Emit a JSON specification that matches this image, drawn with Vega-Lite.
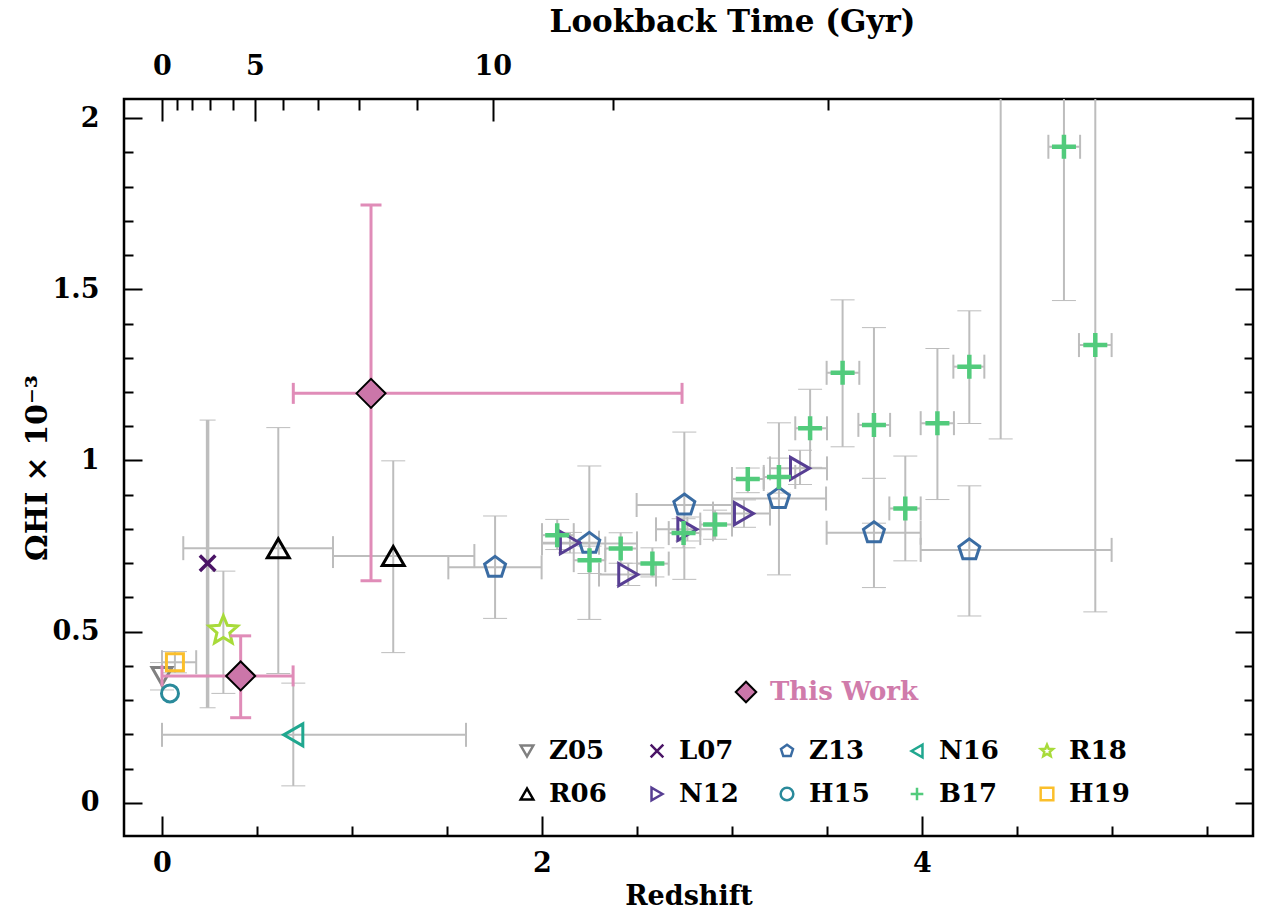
{
  "$schema": "https://vega.github.io/schema/vega-lite/v6.json",
  "width": 1129,
  "height": 737,
  "autosize": "none",
  "padding": {"left": 124, "top": 99, "right": 10, "bottom": 85},
  "background": "white",
  "config": {
    "font": "DejaVu Serif",
    "view": {"stroke": "black", "strokeWidth": 2.5},
    "axis": {
      "labelFont": "DejaVu Serif", "titleFont": "DejaVu Serif",
      "labelFontSize": 27, "titleFontSize": 28, "titleFontWeight": "bold", "labelFontWeight": "bold",
      "labelColor": "black", "titleColor": "black", "tickColor": "black", "tickWidth": 2,
      "grid": false, "domain": false, "labelOverlap": false, "labelFlush": false, "labelBound": false
    },
    "legend": {"labelFont": "DejaVu Serif", "labelFontWeight": "bold"}
  },
  "datasets": {
    "obs": [
      {"src": "Z05", "z": 0.0, "om": 0.37, "olo": 0.33, "ohi": 0.41},
      {"src": "H15", "z": 0.042, "om": 0.32},
      {"src": "H19", "z": 0.068, "om": 0.411, "zlo": 0.0, "zhi": 0.18, "olo": 0.38, "ohi": 0.442},
      {"src": "L07", "z": 0.24, "om": 0.70, "olo": 0.278, "ohi": 1.118},
      {"src": "R18", "z": 0.323, "om": 0.503, "olo": 0.32, "ohi": 0.677},
      {"src": "R06", "z": 0.612, "om": 0.744, "zlo": 0.112, "zhi": 0.90, "olo": 0.378, "ohi": 1.096},
      {"src": "R06", "z": 1.217, "om": 0.721, "zlo": 0.90, "zhi": 1.644, "olo": 0.439, "ohi": 0.999},
      {"src": "N16", "z": 0.691, "om": 0.199, "zlo": 0.0, "zhi": 1.60, "olo": 0.05, "ohi": 0.35},
      {"src": "Z13", "z": 1.753, "om": 0.688, "zlo": 1.507, "zhi": 1.998, "olo": 0.539, "ohi": 0.838},
      {"src": "Z13", "z": 2.249, "om": 0.758, "zlo": 2.0, "zhi": 2.5, "olo": 0.536, "ohi": 0.984},
      {"src": "Z13", "z": 2.749, "om": 0.87, "zlo": 2.498, "zhi": 3.0, "olo": 0.653, "ohi": 1.083},
      {"src": "Z13", "z": 3.247, "om": 0.889, "zlo": 3.0, "zhi": 3.495, "olo": 0.666, "ohi": 1.11},
      {"src": "Z13", "z": 3.747, "om": 0.789, "zlo": 3.498, "zhi": 3.993, "olo": 0.629, "ohi": 0.948},
      {"src": "Z13", "z": 4.249, "om": 0.739, "zlo": 3.993, "zhi": 4.998, "olo": 0.546, "ohi": 0.926},
      {"src": "N12", "z": 2.147, "om": 0.76, "zlo": 2.0, "zhi": 2.3, "olo": 0.73, "ohi": 0.79},
      {"src": "N12", "z": 2.454, "om": 0.667, "zlo": 2.3, "zhi": 2.6, "olo": 0.635, "ohi": 0.70},
      {"src": "N12", "z": 2.765, "om": 0.799, "zlo": 2.6, "zhi": 2.9, "olo": 0.765, "ohi": 0.835},
      {"src": "N12", "z": 3.063, "om": 0.845, "zlo": 2.9, "zhi": 3.2, "olo": 0.805, "ohi": 0.885},
      {"src": "N12", "z": 3.358, "om": 0.977, "zlo": 3.2, "zhi": 3.5, "olo": 0.93, "ohi": 1.03},
      {"src": "B17", "z": 2.08, "om": 0.782, "zlo": 2.0, "zhi": 2.167, "olo": 0.74, "ohi": 0.828},
      {"src": "B17", "z": 2.25, "om": 0.709, "zlo": 2.167, "zhi": 2.333, "olo": 0.67, "ohi": 0.75},
      {"src": "B17", "z": 2.414, "om": 0.743, "zlo": 2.333, "zhi": 2.5, "olo": 0.70, "ohi": 0.789},
      {"src": "B17", "z": 2.581, "om": 0.699, "zlo": 2.5, "zhi": 2.667, "olo": 0.66, "ohi": 0.745},
      {"src": "B17", "z": 2.745, "om": 0.788, "zlo": 2.667, "zhi": 2.833, "olo": 0.745, "ohi": 0.83},
      {"src": "B17", "z": 2.911, "om": 0.813, "zlo": 2.833, "zhi": 3.0, "olo": 0.77, "ohi": 0.855},
      {"src": "B17", "z": 3.083, "om": 0.946, "zlo": 3.0, "zhi": 3.167, "olo": 0.906, "ohi": 0.978},
      {"src": "B17", "z": 3.247, "om": 0.952, "zlo": 3.167, "zhi": 3.333, "olo": 0.905, "ohi": 1.007},
      {"src": "B17", "z": 3.411, "om": 1.094, "zlo": 3.333, "zhi": 3.5, "olo": 0.98, "ohi": 1.208},
      {"src": "B17", "z": 3.582, "om": 1.256, "zlo": 3.498, "zhi": 3.67, "olo": 1.04, "ohi": 1.469},
      {"src": "B17", "z": 3.747, "om": 1.104, "zlo": 3.665, "zhi": 3.832, "olo": 0.817, "ohi": 1.388},
      {"src": "B17", "z": 3.912, "om": 0.86, "zlo": 3.828, "zhi": 3.993, "olo": 0.707, "ohi": 1.013},
      {"src": "B17", "z": 4.081, "om": 1.109, "zlo": 3.993, "zhi": 4.168, "olo": 0.886, "ohi": 1.327},
      {"src": "B17", "z": 4.249, "om": 1.274, "zlo": 4.165, "zhi": 4.328, "olo": 1.108, "ohi": 1.437},
      {"src": "B17", "z": 4.414, "om": 2.4, "zlo": 4.33, "zhi": 4.5, "olo": 1.063, "ohi": 3.2},
      {"src": "B17", "z": 4.747, "om": 1.916, "zlo": 4.665, "zhi": 4.832, "olo": 1.467, "ohi": 2.5},
      {"src": "B17", "z": 4.912, "om": 1.337, "zlo": 4.826, "zhi": 4.998, "olo": 0.558, "ohi": 2.6},
      {"src": "This Work", "z": 0.414, "om": 0.371, "zlo": 0.0, "zhi": 0.69, "olo": 0.249, "ohi": 0.488},
      {"src": "This Work", "z": 1.10, "om": 1.196, "zlo": 0.691, "zhi": 2.737, "olo": 0.649, "ohi": 1.746}
    ]
  },
  "data": {"name": "obs"},
  "layer": [
    {
      "mark": {"type": "point", "opacity": 0},
      "encoding": {
        "x": {"field": "z", "type": "quantitative", "scale": {"domain": [-0.2, 5.742], "nice": false, "zero": false},
          "axis": {"orient": "bottom", "values": [0, 2, 4], "format": "~g", "tickSize": -20, "labelPadding": 34, "title": "Redshift", "titleFontSize": 27, "titlePadding": 7}},
        "y": {"field": "om", "type": "quantitative", "scale": {"domain": [-0.0964, 2.0555], "nice": false, "zero": false},
          "axis": {"orient": "left", "values": [0, 0.5, 1, 1.5, 2], "format": "~g", "tickSize": -18, "labelPadding": 43, "title": "ΩHI × 10⁻³", "titleFontSize": 30, "titlePadding": 0}}
      }
    },
    {
      "mark": {"type": "point", "opacity": 0},
      "encoding": {
        "x": {"field": "z", "type": "quantitative", "scale": {"domain": [-0.2, 5.742], "nice": false, "zero": false},
          "axis": {"orient": "bottom", "values": [0.5, 1, 1.5, 2.5, 3, 3.5, 4.5, 5, 5.5], "tickSize": -10, "labels": false, "title": null}},
        "y": {"field": "om", "type": "quantitative", "scale": {"domain": [-0.0964, 2.0555], "nice": false, "zero": false},
          "axis": {"orient": "left", "values": [0.1, 0.2, 0.3, 0.4, 0.6, 0.7, 0.8, 0.9, 1.1, 1.2, 1.3, 1.4, 1.6, 1.7, 1.8, 1.9], "tickSize": -9, "labels": false, "title": null}}
      }
    },
    {
      "mark": {"type": "point", "opacity": 0},
      "encoding": {
        "x": {"field": "z", "type": "quantitative", "scale": {"domain": [-0.2, 5.742], "nice": false, "zero": false},
          "axis": {"orient": "top", "values": [0, 0.489, 1.741], "labelExpr": "datum.value < 0.2 ? '0' : datum.value < 1 ? '5' : '10'", "tickSize": -22, "labelPadding": 41, "title": "Lookback Time (Gyr)", "titleFontSize": 31, "titlePadding": 14, "titleX": 608}},
        "y": {"field": "om", "type": "quantitative", "scale": {"domain": [-0.0964, 2.0555], "nice": false, "zero": false},
          "axis": {"orient": "right", "values": [0, 0.5, 1, 1.5, 2], "tickSize": -18, "labels": false, "title": null}}
      }
    },
    {
      "mark": {"type": "point", "opacity": 0},
      "encoding": {
        "x": {"field": "z", "type": "quantitative", "scale": {"domain": [-0.2, 5.742], "nice": false, "zero": false},
          "axis": {"orient": "top", "values": [0.081, 0.156, 0.253, 0.372, 0.638, 0.823, 1.038, 1.341, 2.372, 3.505], "tickSize": -11, "labels": false, "title": null}},
        "y": {"field": "om", "type": "quantitative", "scale": {"domain": [-0.0964, 2.0555], "nice": false, "zero": false},
          "axis": {"orient": "right", "values": [0.1, 0.2, 0.3, 0.4, 0.6, 0.7, 0.8, 0.9, 1.1, 1.2, 1.3, 1.4, 1.6, 1.7, 1.8, 1.9], "tickSize": -9, "labels": false, "title": null}}
      }
    },
    {
      "transform": [{"filter": "datum.src !== 'This Work' && isValid(datum.zlo)"}],
      "mark": {"type": "rule", "color": "#bdbdbd", "strokeWidth": 2, "clip": true},
      "encoding": {
        "x": {"field": "zlo", "type": "quantitative", "scale": {"domain": [-0.2, 5.742], "nice": false, "zero": false}, "axis": null},
        "x2": {"field": "zhi"},
        "y": {"field": "om", "type": "quantitative", "scale": {"domain": [-0.0964, 2.0555], "nice": false, "zero": false}, "axis": null}
      }
    },
    {
      "transform": [{"filter": "datum.src !== 'This Work' && isValid(datum.zlo)"}, {"fold": ["zlo", "zhi"], "as": ["k", "zc"]}],
      "mark": {"type": "tick", "orient": "vertical", "color": "#bdbdbd", "thickness": 2, "size": 24, "opacity": 1, "clip": true},
      "encoding": {
        "x": {"field": "zc", "type": "quantitative", "scale": {"domain": [-0.2, 5.742], "nice": false, "zero": false}, "axis": null},
        "y": {"field": "om", "type": "quantitative", "scale": {"domain": [-0.0964, 2.0555], "nice": false, "zero": false}, "axis": null}
      }
    },
    {
      "transform": [{"filter": "datum.src !== 'This Work' && isValid(datum.olo)"}],
      "mark": {"type": "rule", "color": "#bdbdbd", "clip": true},
      "encoding": {
        "x": {"field": "z", "type": "quantitative", "scale": {"domain": [-0.2, 5.742], "nice": false, "zero": false}, "axis": null},
        "y": {"field": "olo", "type": "quantitative", "scale": {"domain": [-0.0964, 2.0555], "nice": false, "zero": false}, "axis": null},
        "y2": {"field": "ohi"},
        "strokeWidth": {"condition": {"test": "datum.src === 'L07'", "value": 3.5}, "value": 2}
      }
    },
    {
      "transform": [{"filter": "datum.src !== 'This Work' && isValid(datum.olo)"}, {"fold": ["olo", "ohi"], "as": ["k", "oc"]}],
      "mark": {"type": "tick", "orient": "horizontal", "color": "#bdbdbd", "opacity": 1, "clip": true},
      "encoding": {
        "x": {"field": "z", "type": "quantitative", "scale": {"domain": [-0.2, 5.742], "nice": false, "zero": false}, "axis": null},
        "y": {"field": "oc", "type": "quantitative", "scale": {"domain": [-0.0964, 2.0555], "nice": false, "zero": false}, "axis": null},
        "size": {"condition": {"test": "datum.src === 'L07'", "value": 16}, "value": 24},
        "strokeWidth": {"condition": {"test": "datum.src === 'L07'", "value": 3.5}, "value": 2}
      }
    },
    {
      "transform": [{"filter": "datum.src !== 'This Work'"}],
      "mark": {"type": "point", "filled": false, "opacity": 1, "clip": true},
      "encoding": {
        "x": {"field": "z", "type": "quantitative", "scale": {"domain": [-0.2, 5.742], "nice": false, "zero": false}, "axis": null},
        "y": {"field": "om", "type": "quantitative", "scale": {"domain": [-0.0964, 2.0555], "nice": false, "zero": false}, "axis": null},
        "shape": {"field": "src", "type": "nominal",
          "scale": {"domain": ["Z05", "L07", "Z13", "N16", "R18", "R06", "N12", "H15", "B17", "H19"],
            "range": ["triangle-down", "M-1,-1L1,1M-1,1L1,-1", "M0,-1L0.951,-0.309L0.588,0.809L-0.588,0.809L-0.951,-0.309Z", "triangle-left", "M0,-1L0.265,-0.364L0.951,-0.309L0.428,0.139L0.588,0.809L0,0.45L-0.588,0.809L-0.428,0.139L-0.951,-0.309L-0.265,-0.364Z", "triangle-up", "triangle-right", "circle", "M-1,0L1,0M0,-1L0,1", "square"]},
          "legend": {"orient": "none", "legendX": 390, "legendY": 639, "columns": 5, "direction": "horizontal", "title": null, "labelFontSize": 26, "symbolSize": 160, "symbolStrokeWidth": 2.5, "symbolFillColor": "transparent", "columnPadding": 34, "rowPadding": 17, "gridAlign": "all", "labelOffset": 9, "padding": 0,
            "encode": {"labels": {"update": {"fill": {"scale": "stroke", "field": "value"}}}}}},
        "stroke": {"field": "src", "type": "nominal",
          "scale": {"domain": ["Z05", "L07", "Z13", "N16", "R18", "R06", "N12", "H15", "B17", "H19"],
            "range": ["#808080", "#4a1466", "#3a6ca3", "#20a78f", "#a8db3a", "#000000", "#573e93", "#2a8a9b", "#52cb7c", "#fbbf2b"]},
          "legend": {"orient": "none", "legendX": 390, "legendY": 639, "columns": 5, "direction": "horizontal", "title": null, "labelFontSize": 26, "symbolSize": 160, "symbolStrokeWidth": 2.5, "symbolFillColor": "transparent", "columnPadding": 34, "rowPadding": 17, "gridAlign": "all", "labelOffset": 9, "padding": 0,
            "encode": {"labels": {"update": {"fill": {"scale": "stroke", "field": "value"}}}}}},
        "size": {"condition": [
          {"test": "datum.src === 'L07'", "value": 240},
          {"test": "datum.src === 'H15' || datum.src === 'H19'", "value": 289},
          {"test": "datum.src === 'Z05'", "value": 400},
          {"test": "datum.src === 'B17'", "value": 576},
          {"test": "datum.src === 'R18'", "value": 900}
        ], "value": 484},
        "strokeWidth": {"condition": [
          {"test": "datum.src === 'B17'", "value": 4.5},
          {"test": "datum.src === 'L07'", "value": 3.5}
        ], "value": 3}
      }
    },
    {
      "transform": [{"filter": "datum.src === 'This Work'"}],
      "mark": {"type": "rule", "color": "#e08cb8", "strokeWidth": 3, "clip": true},
      "encoding": {
        "x": {"field": "zlo", "type": "quantitative", "scale": {"domain": [-0.2, 5.742], "nice": false, "zero": false}, "axis": null},
        "x2": {"field": "zhi"},
        "y": {"field": "om", "type": "quantitative", "scale": {"domain": [-0.0964, 2.0555], "nice": false, "zero": false}, "axis": null}
      }
    },
    {
      "transform": [{"filter": "datum.src === 'This Work'"}, {"fold": ["zlo", "zhi"], "as": ["k", "zc"]}],
      "mark": {"type": "tick", "orient": "vertical", "color": "#e08cb8", "thickness": 3, "size": 21, "opacity": 1, "clip": true},
      "encoding": {
        "x": {"field": "zc", "type": "quantitative", "scale": {"domain": [-0.2, 5.742], "nice": false, "zero": false}, "axis": null},
        "y": {"field": "om", "type": "quantitative", "scale": {"domain": [-0.0964, 2.0555], "nice": false, "zero": false}, "axis": null}
      }
    },
    {
      "transform": [{"filter": "datum.src === 'This Work'"}],
      "mark": {"type": "rule", "color": "#e08cb8", "strokeWidth": 3, "clip": true},
      "encoding": {
        "x": {"field": "z", "type": "quantitative", "scale": {"domain": [-0.2, 5.742], "nice": false, "zero": false}, "axis": null},
        "y": {"field": "olo", "type": "quantitative", "scale": {"domain": [-0.0964, 2.0555], "nice": false, "zero": false}, "axis": null},
        "y2": {"field": "ohi"}
      }
    },
    {
      "transform": [{"filter": "datum.src === 'This Work'"}, {"fold": ["olo", "ohi"], "as": ["k", "oc"]}],
      "mark": {"type": "tick", "orient": "horizontal", "color": "#e08cb8", "thickness": 3, "size": 21, "opacity": 1, "clip": true},
      "encoding": {
        "x": {"field": "z", "type": "quantitative", "scale": {"domain": [-0.2, 5.742], "nice": false, "zero": false}, "axis": null},
        "y": {"field": "oc", "type": "quantitative", "scale": {"domain": [-0.0964, 2.0555], "nice": false, "zero": false}, "axis": null}
      }
    },
    {
      "transform": [{"filter": "datum.src === 'This Work'"}],
      "mark": {"type": "point", "shape": "diamond", "filled": true, "opacity": 1, "stroke": "black", "strokeWidth": 2, "size": 841, "clip": true},
      "encoding": {
        "x": {"field": "z", "type": "quantitative", "scale": {"domain": [-0.2, 5.742], "nice": false, "zero": false}, "axis": null},
        "y": {"field": "om", "type": "quantitative", "scale": {"domain": [-0.0964, 2.0555], "nice": false, "zero": false}, "axis": null},
        "fill": {"field": "src", "type": "nominal", "scale": {"domain": ["This Work"], "range": ["#cb76a9"]},
          "legend": {"orient": "none", "legendX": 609, "legendY": 580, "title": null, "symbolType": "diamond", "symbolSize": 420, "symbolStrokeColor": "black", "symbolStrokeWidth": 2, "labelColor": "#d07bab", "labelFontSize": 26, "labelOffset": 11, "padding": 0}}
      }
    }
  ],
  "resolve": {"axis": {"x": "independent", "y": "independent"}}
}
